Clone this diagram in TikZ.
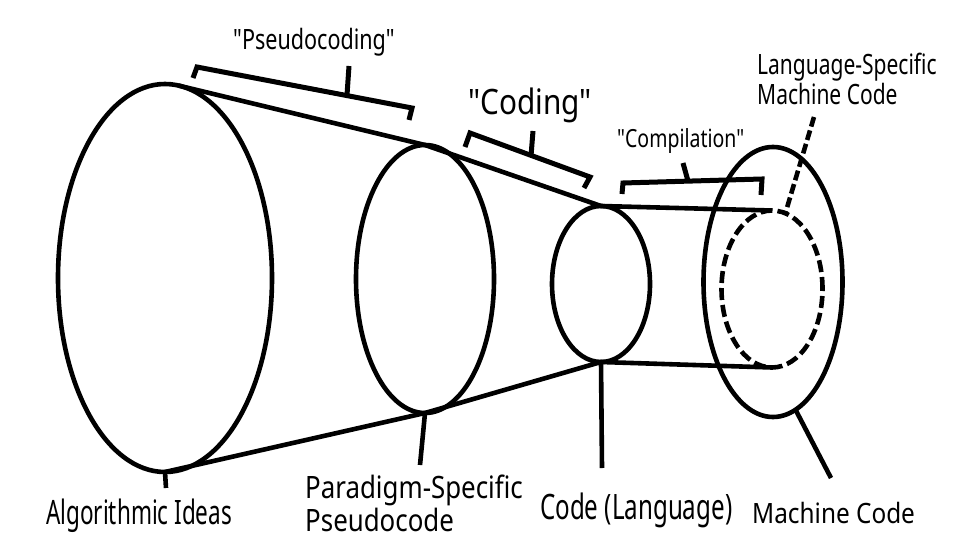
\documentclass[tikz,border=0pt]{standalone}
\usepackage{fontspec}
\newfontfamily\nsans{Noto Sans}
\usepackage{graphicx}
\usetikzlibrary{shapes.geometric}
\newcommand\lab[4]{\scalebox{#1}[1]{\nsans\fontsize{#2}{#3}\selectfont #4}}
\tikzset{
  oval/.style={draw, ellipse, line width=4.6pt, inner sep=0pt, outer sep=0pt},
  heavy/.style={line width=4.6pt, line join=round},
  bracket/.style={line width=5pt, line join=miter},
  lbl/.style={inner sep=0pt, anchor=base west},
}
\begin{document}
\begin{tikzpicture}[x=1pt,y=1pt]
\useasboundingbox (0,0) rectangle (960,-540);
\fill[white] (0,0) rectangle (960,-540);

% ellipses
\node[oval, minimum width=214pt, minimum height=388pt] (e1) at (165,-278) {};
\node[oval, minimum width=138pt, minimum height=268pt] (e2) at (425,-279) {};
\node[oval, minimum width=98pt, minimum height=156pt] (e3) at (601,-284) {};
\node[oval, minimum width=139pt, minimum height=270pt] (e4) at (773,-282) {};
\node[oval, dash pattern=on 12pt off 5pt, minimum width=101pt, minimum height=157pt] (lm) at (772,-289) {};

% cone and cylinder lines
\draw[heavy] (e1.86) -- (e2.north) -- (e3.north) -- (lm.north);
\draw[heavy] (e1.south) -- (e2.south) -- (e3.south) -- (lm.south);

% labels
\node[lbl] (pc) at (233,-50) {\lab{0.77}{28}{28}{"Pseudocoding"}};
\node[lbl] (cd) at (468,-115) {\lab{0.85}{35}{35}{"Coding"}};
\node[lbl] (cp) at (617,-148) {\lab{0.78}{25}{25}{"Compilation"}};
\node[lbl] (lsm) at (757,-75) {\lab{0.75}{28}{28}{\begin{tabular}[t]{@{}l@{}}Language-Specific\\Machine Code\end{tabular}}};
\node[lbl] (ai) at (46,-524) {\lab{0.67}{33.6}{33.6}{Algorithmic Ideas}};
\node[lbl] (ps) at (305,-498) {\lab{0.84}{30.8}{32}{\begin{tabular}[t]{@{}l@{}}Paradigm-Specific\\Pseudocode\end{tabular}}};
\node[lbl] (cl) at (540,-519) {\lab{0.69}{35}{35}{Code (Language)}};
\node[lbl] (mc) at (752,-523) {\lab{0.87}{28}{28}{Machine Code}};

% leaders
\coordinate (t1) at (166,-488);
\coordinate (t2) at (420,-465);
\coordinate (t3) at (602,-468);
\coordinate (t4) at (831,-478);
\coordinate (t5) at (814,-117);
\draw[heavy] (e1.south) -- (t1);
\draw[heavy] (e2.south) -- (t2);
\draw[heavy] (e3.south) -- (t3);
\draw[heavy] (e4.-80) -- (t4);
\draw[heavy, dash pattern=on 10pt off 4pt] (t5) -- (lm.80);

% brackets
\draw[bracket] (193,-78) -- (197,-67) -- (412,-108) -- (409,-120);
\draw[bracket] (347,-95) -- (349,-66);
\draw[bracket] (465,-147) -- (470,-133) -- (590,-177) -- (584,-188);
\draw[bracket] (531,-156) -- (533,-131);
\draw[bracket] (622,-194) -- (623,-183) -- (762,-179) -- (761,-195);
\draw[bracket] (688,-181) -- (683,-163);
\end{tikzpicture}
\end{document}
